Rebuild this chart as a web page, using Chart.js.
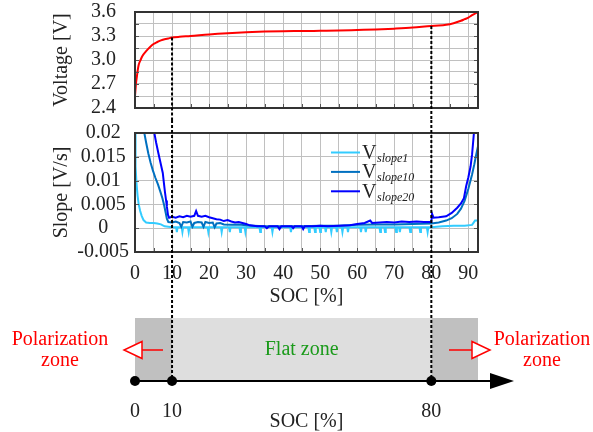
<!DOCTYPE html>
<html>
<head>
<meta charset="utf-8">
<script src="https://cdn.jsdelivr.net/npm/chart.js@4.4.1/dist/chart.umd.min.js"></script>
<style>
  html, body { margin: 0; padding: 0; background: #fff; }
  #wrap { position: relative; width: 593px; height: 432px; }
  #wrap canvas { position: absolute; left: 0; }
</style>
</head>
<body>
<div id="wrap">
  <canvas id="voltChart" width="593" height="120" style="top:0px"></canvas>
  <canvas id="slopeChart" width="593" height="190" style="top:120px"></canvas>
  <canvas id="zoneChart" width="593" height="122" style="top:310px"></canvas>
</div>
<script>
// ---- data ----
const SOC_MAX = 92.6;
const socGrid = [0, 5, 10, 15, 20, 25, 30, 35, 40, 45, 50, 55, 60, 65, 70, 75, 80, 85, 90];
const voltGrid = [2.4, 2.55, 2.7, 2.85, 3.0, 3.15, 3.3, 3.45, 3.6];
const slopeGrid = [-0.005, 0, 0.005, 0.01, 0.015, 0.02];

// voltage vs SOC
const socV = [0, 0.3, 0.5, 0.7, 1, 1.5, 2, 3, 4, 5, 6, 7, 8, 9, 10, 12, 15, 20, 25, 30, 35, 40, 45, 50, 55, 60, 65, 70, 75, 80, 82, 84, 86, 88, 89, 90, 91, 92, 92.6];
const voltage = [2.55, 2.72, 2.79, 2.86, 2.94, 3.0, 3.05, 3.11, 3.16, 3.2, 3.225, 3.245, 3.26, 3.27, 3.28, 3.29, 3.3, 3.32, 3.335, 3.346, 3.355, 3.36, 3.362, 3.365, 3.368, 3.375, 3.382, 3.392, 3.405, 3.425, 3.43, 3.44, 3.46, 3.49, 3.51, 3.53, 3.56, 3.585, 3.6];

// slopes [SOC, V/s]
const slope1 = [[0,0.02],[0.15,0.013],[0.4,0.0095],[0.7,0.0068],[1.0,0.005],[1.4,0.0036],[1.8,0.0026],[2.3,0.0017],[3,0.0012],[4,0.0011],[5,0.0011],[6,0.001],[7,0.0008],[8,0.0004],[9,0.0003],[10,0.0002],
  [11.1,0.0002],[11.3,-0.0008],[11.5,0.0002],[12.6,0.0002],[12.8,-0.0008],[13,0.0002],[14.3,0.0002],[14.5,-0.0008],[14.7,0.0002],
  [19.6,0.0002],[19.8,-0.0008],[20,0.0002],[23.2,0.0002],[23.4,-0.0008],[23.6,0.0002],[25.4,0.0002],[25.6,-0.0008],[25.8,0.0002],
  [28.2,0.0002],[28.4,-0.0008],[28.6,0.0002],[29.6,0.0002],[29.8,-0.0008],[30,0.0002],[33.6,0.0002],[33.8,-0.0008],[34,0.0002],
  [36.9,0.0002],[37.1,-0.0008],[37.3,0.0002],[41.9,0.0002],[42.1,-0.0008],[42.3,0.0002],[46.8,0.0002],[47,-0.0008],[47.2,0.0002],
  [48.4,0.0002],[48.6,-0.0008],[48.8,0.0002],[49.8,0.0002],[50,-0.0008],[50.2,0.0002],[51.3,0.0002],[51.5,-0.0008],[51.7,0.0002],
  [52.8,0.0002],[53,-0.0008],[53.2,0.0002],[54.3,0.0002],[54.5,-0.0008],[54.7,0.0002],[55.8,0.0002],[56,-0.0008],[56.2,0.0002],
  [57.3,0.0002],[57.5,-0.0008],[57.7,0.0002],[60.8,0.0002],[61,-0.0008],[61.2,0.0002],[62.1,0.0002],[62.3,-0.0008],[62.5,0.0002],
  [66,0.0002],[66.2,-0.0008],[66.4,0.0002],[67.3,0.0002],[67.5,-0.0008],[67.7,0.0002],[70.3,0.0002],[70.5,-0.0008],[70.7,0.0002],
  [71.3,0.0002],[71.5,-0.0008],[71.7,0.0002],[74.1,0.0002],[74.3,-0.0008],[74.5,0.0002],[76.8,0.0002],[77,-0.0008],[77.2,0.0002],
  [78.8,0.0002],[79,-0.0008],[79.2,0.0002],[80,0.0002],[83,0.0004],[86,0.0005],[89,0.0005],[91,0.0007],[91.8,0.0016],[92.6,0.0016]];

const slope10 = [[2.4,0.0205],[3,0.018],[3.6,0.0157],[4.2,0.0138],[4.8,0.0122],[5.5,0.0106],[6.2,0.0092],[6.8,0.0078],[7.4,0.0063],[7.9,0.0047],[8.3,0.0032],[8.6,0.002],[9,0.0013],
  [10,0.0012],[11,0.0014],[12,0.0011],[12.5,0.0003],[13,0.0013],[14,0.0012],[15,0.0014],[15.5,0.0003],[16,0.0011],[17,0.0013],[18,0.0012],[18.5,0.0003],[19,0.0013],[20,0.0011],
  [21,0.0012],[21.5,0.0002],[22,0.001],[23,0.0011],[24,0.0008],[26,0.0007],[28,0.0008],[30,0.0006],[32,0.0005],[35,0.0004],[40,0.0004],[45,0.0004],[50,0.0005],[55,0.0005],
  [60,0.0007],[65,0.0008],[70,0.0008],[75,0.0009],[80,0.001],[82,0.0012],[84,0.0016],[85.5,0.0021],[87,0.003],[88,0.0041],[89,0.0058],[90,0.0083],[91,0.0113],[91.6,0.0134],[92,0.015],[92.6,0.0172]];

const slope20 = [[5.1,0.0205],[5.7,0.018],[6.3,0.0158],[6.9,0.0137],[7.5,0.0116],[7.8,0.0095],[8.1,0.0075],[8.4,0.0058],[8.6,0.0046],[8.9,0.0028],[9.2,0.0022],
  [10,0.0024],[11,0.0022],[12,0.0025],[13,0.0023],[14,0.0026],[15,0.0024],[16,0.0026],[16.5,0.0036],[17,0.0026],[18,0.0024],[19,0.0026],[20,0.0023],[21,0.0021],[22,0.0019],
  [23,0.0018],[24,0.0015],[25,0.0017],[26,0.0014],[27,0.0012],[28,0.0013],[29,0.0011],[30,0.0009],[31,0.0006],[32,0.0005],[33,0.0004],[35,0.0004],[35.6,0.0],[36.2,0.0004],
  [38.5,0.0004],[39,-0.0002],[39.5,0.0004],[42.3,0.0004],[42.7,0.0],[43.1,0.0004],[45,0.0004],[45.4,-0.0002],[45.8,0.0004],[48,0.0004],[50,0.0005],[52,0.0004],[55,0.0005],
  [58,0.0006],[60,0.0009],[62,0.0011],[63.5,0.0016],[64,0.0011],[66,0.0012],[68,0.0013],[70,0.0012],[72,0.0014],[74,0.0013],[76,0.0014],[78,0.0013],[80,0.0013],
  [80.2,0.003],[80.6,0.0022],[82,0.0023],[84,0.0025],[85.5,0.0032],[87,0.0043],[88,0.0052],[88.8,0.0063],[89.4,0.0088],[90,0.0107],[90.6,0.013],[91,0.0155],[91.5,0.02],[92,0.024]];

const slopeLabels = ['1', '10', '20'];
const slopeColors = ['#33ccff', '#0070c0', '#0000ff'];

// zone diagram
const markers = [10, 80];
const zoneMarks = [0, 10, 80];
const zoneEdges = [0, 10, 80, SOC_MAX];
const zoneColors = ['#c0c0c0', '#dedede', '#c0c0c0'];

// ---- common settings ----
const FONT = "'Liberation Serif', 'Times New Roman', serif";
const GRID = '#c0c0c0';
const INK = '#222';
Chart.defaults.font.family = FONT;
Chart.defaults.font.size = 20;
Chart.defaults.color = INK;

// dotted guide lines at 10 % and 80 %
function dottedLine(ctx, x, y0, y1) {
    ctx.save();
    ctx.strokeStyle = '#000';
    ctx.lineWidth = 2;
    ctx.setLineDash([3, 2]);
    ctx.beginPath();
    ctx.moveTo(x, y0);
    ctx.lineTo(x, y1);
    ctx.stroke();
    ctx.restore();
}

// frame + small inward ticks
const framePlugin = {
    id: 'frame',
    afterDatasetsDraw(chart) {
        const {ctx, chartArea: a, scales: {x, y}} = chart;
        ctx.save();
        ctx.strokeStyle = '#555';
        ctx.lineWidth = 1;
        ctx.beginPath();
        x.ticks.forEach(t => {
            const px = Math.round(x.getPixelForValue(t.value)) + 0.5;
            ctx.moveTo(px, a.bottom); ctx.lineTo(px, a.bottom - 4);
        });
        y.ticks.forEach(t => {
            const py = Math.round(y.getPixelForValue(t.value)) + 0.5;
            ctx.moveTo(a.left, py); ctx.lineTo(a.left + 4, py);
            ctx.moveTo(a.right, py); ctx.lineTo(a.right - 4, py);
        });
        ctx.stroke();
        ctx.strokeStyle = '#333';
        ctx.lineWidth = 2;
        ctx.strokeRect(a.left, a.top, a.right - a.left, a.bottom - a.top);
        ctx.restore();
    }
};

const flatTicks = {autoSkip: false, maxRotation: 0, minRotation: 0};

// ---- voltage chart ----
new Chart(document.getElementById('voltChart'), {
    type: 'line',
    data: {
        datasets: [{
            data: socV.map((s, i) => ({x: s, y: voltage[i]})),
            borderColor: '#ff0000',
            borderWidth: 2,
            pointRadius: 0,
            cubicInterpolationMode: 'monotone'
        }]
    },
    options: {
        responsive: false,
        animation: false,
        devicePixelRatio: 1,
        layout: {padding: {top: 12, right: 115, left: 0, bottom: 0}},
        plugins: {legend: {display: false}, tooltip: {enabled: false}},
        scales: {
            x: {
                type: 'linear', min: 0, max: SOC_MAX,
                afterBuildTicks: s => { s.ticks = socGrid.map(v => ({value: v})); },
                ticks: {...flatTicks, display: false},
                grid: {color: GRID, drawTicks: false},
                border: {display: false},
                afterFit: s => { s.height = 12; }
            },
            y: {
                min: 2.4, max: 3.6,
                afterBuildTicks: s => { s.ticks = voltGrid.map(v => ({value: v})); },
                ticks: {...flatTicks, padding: 0, crossAlign: 'center', callback: (v, i) => i % 2 === 0 ? v.toFixed(1) : ''},
                grid: {color: GRID, drawTicks: true, tickLength: 19, tickColor: 'rgba(0,0,0,0)'},
                border: {display: false},
                title: {display: true, text: 'Voltage [V]', padding: {top: 50, bottom: 0}},
                afterFit: s => { s.width = 135; }
            }
        }
    },
    plugins: [framePlugin, {
        id: 'guides',
        afterDraw(chart) {
            const {ctx, scales: {x, y}} = chart;
            markers.forEach(m => {
                const v = voltage[socV.indexOf(m)];
                dottedLine(ctx, x.getPixelForValue(m), y.getPixelForValue(v), chart.height);
            });
        }
    }]
});

// ---- slope chart ----
const slopeLegend = {
    id: 'slopeLegend',
    afterDatasetsDraw(chart) {
        const {ctx} = chart;
        ctx.save();
        slopeLabels.forEach((lab, i) => {
            const ly = 32.5 + i * 19.4;
            ctx.strokeStyle = slopeColors[i];
            ctx.lineWidth = 2;
            ctx.beginPath();
            ctx.moveTo(331, ly);
            ctx.lineTo(360, ly);
            ctx.stroke();
            ctx.fillStyle = INK;
            ctx.textBaseline = 'alphabetic';
            ctx.textAlign = 'left';
            ctx.font = '20px ' + FONT;
            ctx.fillText('V', 362, ly + 6.5);
            ctx.font = 'italic 12px ' + FONT;
            ctx.fillText('slope' + lab, 377, ly + 9.5);
        });
        ctx.restore();
    }
};

new Chart(document.getElementById('slopeChart'), {
    type: 'line',
    data: {
        datasets: [slope20, slope10, slope1].map((pts, k) => ({
            data: pts.map(p => ({x: p[0], y: p[1]})),
            borderColor: slopeColors[2 - k],
            borderWidth: 2,
            pointRadius: 0,
            tension: 0,
            order: k
        }))
    },
    options: {
        responsive: false,
        animation: false,
        devicePixelRatio: 1,
        layout: {padding: {top: 13, right: 115, left: 0, bottom: 0}},
        plugins: {legend: {display: false}, tooltip: {enabled: false}},
        scales: {
            x: {
                type: 'linear', min: 0, max: SOC_MAX,
                afterBuildTicks: s => { s.ticks = socGrid.map(v => ({value: v})); },
                ticks: {...flatTicks, padding: 10, callback: v => v % 10 === 0 ? String(v) : ''},
                grid: {color: GRID, drawTicks: false},
                border: {display: false},
                title: {display: true, text: 'SOC [%]', padding: {top: 0, bottom: 1}},
                afterFit: s => { s.height = 58; }
            },
            y: {
                min: -0.005, max: 0.02,
                afterBuildTicks: s => { s.ticks = slopeGrid.map(v => ({value: v})); },
                ticks: {...flatTicks, padding: 0, crossAlign: 'center', callback: v => String(+v.toFixed(3))},
                grid: {color: GRID, drawTicks: true, tickLength: 6, tickColor: 'rgba(0,0,0,0)'},
                border: {display: false},
                title: {display: true, text: 'Slope [V/s]', padding: {top: 50, bottom: 0}},
                afterFit: s => { s.width = 135; }
            }
        }
    },
    plugins: [framePlugin, slopeLegend, {
        id: 'guides',
        afterDraw(chart) {
            const {ctx, scales: {x}} = chart;
            markers.forEach(m => dottedLine(ctx, x.getPixelForValue(m), 0, chart.height));
        }
    }]
});

// ---- zone diagram ----
const zonePlugin = {
    id: 'zones',
    beforeDatasetsDraw(chart) {
        const {ctx, chartArea: a, scales: {x, y}} = chart;
        const y0 = y.getPixelForValue(0);
        ctx.save();
        // zones
        zoneColors.forEach((c, i) => {
            const x0 = x.getPixelForValue(zoneEdges[i]);
            const x1 = x.getPixelForValue(zoneEdges[i + 1]);
            ctx.fillStyle = c;
            ctx.fillRect(x0, a.top, x1 - x0, a.bottom - a.top);
        });
        // axis with arrow head
        ctx.strokeStyle = '#000';
        ctx.fillStyle = '#000';
        ctx.lineWidth = 2;
        ctx.beginPath();
        ctx.moveTo(x.getPixelForValue(0), y0);
        ctx.lineTo(a.right + 14, y0);
        ctx.stroke();
        ctx.beginPath();
        ctx.moveTo(a.right + 12, y0 - 8);
        ctx.lineTo(a.right + 36, y0);
        ctx.lineTo(a.right + 12, y0 + 8);
        ctx.closePath();
        ctx.fill();
        // guide lines
        markers.forEach(m => dottedLine(ctx, x.getPixelForValue(m), 0, y0));
        // texts
        ctx.textAlign = 'center';
        ctx.textBaseline = 'middle';
        ctx.font = '20px ' + FONT;
        ctx.fillStyle = '#1a9a1a';
        const midY = (a.top + a.bottom) / 2;
        ctx.fillText('Flat zone', (x.getPixelForValue(markers[0]) + x.getPixelForValue(markers[1])) / 2, midY);
        ctx.fillStyle = '#ff0000';
        ctx.fillText('Polarization', 60, midY - 10);
        ctx.fillText('zone', 60, midY + 11);
        ctx.fillText('Polarization', 542, midY - 10);
        ctx.fillText('zone', 542, midY + 11);
        // outlined arrows
        const ay = midY + 0.5;
        ctx.strokeStyle = '#ff0000';
        ctx.lineWidth = 1.5;
        const left = a.left, right = a.right;
        ctx.beginPath();
        ctx.moveTo(left + 28, ay); ctx.lineTo(left + 7, ay);
        ctx.stroke();
        ctx.beginPath();
        ctx.moveTo(left + 7, ay - 8.5); ctx.lineTo(left - 11, ay); ctx.lineTo(left + 7, ay + 8.5); ctx.closePath();
        ctx.fillStyle = '#fff'; ctx.fill(); ctx.stroke();
        ctx.beginPath();
        ctx.moveTo(right - 29, ay); ctx.lineTo(right - 6, ay);
        ctx.stroke();
        ctx.beginPath();
        ctx.moveTo(right - 6, ay - 8.5); ctx.lineTo(right + 12, ay); ctx.lineTo(right - 6, ay + 8.5); ctx.closePath();
        ctx.fill(); ctx.stroke();
        ctx.restore();
    }
};

new Chart(document.getElementById('zoneChart'), {
    type: 'scatter',
    data: {
        datasets: [{
            data: zoneMarks.map(s => ({x: s, y: 0})),
            pointRadius: 5,
            pointBackgroundColor: '#000',
            pointBorderWidth: 0,
            clip: false
        }]
    },
    options: {
        responsive: false,
        animation: false,
        devicePixelRatio: 1,
        layout: {padding: {top: 8, right: 115, left: 135, bottom: 0}},
        plugins: {legend: {display: false}, tooltip: {enabled: false}},
        scales: {
            x: {
                type: 'linear', min: 0, max: SOC_MAX,
                afterBuildTicks: s => { s.ticks = zoneMarks.map(v => ({value: v})); },
                ticks: {...flatTicks, padding: 11},
                grid: {display: false},
                border: {display: false},
                title: {display: true, text: 'SOC [%]', font: {lineHeight: 1}, padding: 0},
                afterFit: s => { s.height = 51; }
            },
            y: {display: false, min: 0, max: 1}
        }
    },
    plugins: [zonePlugin]
});
</script>
</body>
</html>
